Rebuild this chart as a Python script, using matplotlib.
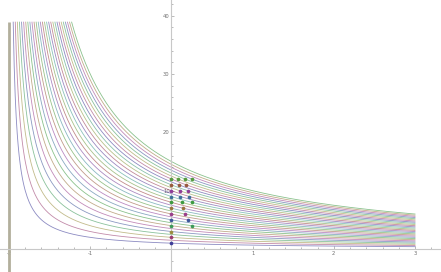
import colorsys
import numpy as np
import matplotlib
matplotlib.use("Agg")
import matplotlib.pyplot as plt
from matplotlib.ticker import MultipleLocator, FixedLocator

# curve constants: y = c / (x + 2)
curve_c = [2, 3, 4, 5, 6, 7, 8, 9, 10, 11, 12, 13, 14, 15, 16,
           17, 18, 19, 20, 21, 22, 23, 24, 25, 26, 27, 28, 29, 30]
x_start = -2.0
x_end = 3.0
y_clip = 38.9

# dots: row height n, and number of extra points k/n on that row
dot_n = [1, 2, 3, 4, 5, 6, 7, 8, 9, 10, 11, 12]
dot_kmax = [0, 0, 0, 1, 1, 1, 1, 2, 2, 2, 2, 3]

x_ticks = [-2, -1, 1, 2, 3]
y_ticks = [10, 20, 30, 40]


def mma_color(i):
    # old Mathematica default colour sequence
    h = (0.67 + i * 0.2381966) % 1.0
    return colorsys.hsv_to_rgb(h, 0.6, 0.6)


fig = plt.figure(figsize=(4.41, 2.72), dpi=100)
ax = fig.add_axes([0, 0, 1, 1])
ax.set_xlim(-2.111, 3.32)
ax.set_ylim(-3.94, 42.69)

# asymptote segment where all curves jump
ax.plot([x_start, x_start], [-3.94, y_clip], color='#b2af9c', lw=2.0,
        solid_capstyle='butt', zorder=2)

for i, c in enumerate(curve_c):
    xs = np.linspace(x_start + c / y_clip, x_end, 400)
    ax.plot(xs, c / (xs - x_start), color=mma_color(i), lw=0.6, alpha=0.6,
            zorder=2)

for i, (n, kmax) in enumerate(zip(dot_n, dot_kmax)):
    xs = [k / n for k in range(kmax + 1)]
    ax.scatter(xs, [n] * len(xs), s=7, color=mma_color(i), zorder=3,
               linewidths=0)

# axes through the origin, Mathematica style
for side in ['top', 'right']:
    ax.spines[side].set_visible(False)
ax.spines['left'].set_position(('data', 0))
ax.spines['bottom'].set_position(('data', 0))
for side in ['left', 'bottom']:
    ax.spines[side].set_color('#c8c8c8')
    ax.spines[side].set_linewidth(0.8)

ax.xaxis.set_major_locator(FixedLocator(x_ticks))
ax.xaxis.set_minor_locator(MultipleLocator(0.2))
ax.yaxis.set_major_locator(FixedLocator(y_ticks))
ax.yaxis.set_minor_locator(MultipleLocator(2))
ax.tick_params(which='both', direction='in', color='#a0a0a0', width=0.5,
               labelsize=3.8, labelcolor='#707070', pad=1.2)
ax.tick_params(which='major', length=2.5)
ax.tick_params(which='minor', length=1.3)
ax.set_xticklabels([str(t) for t in x_ticks])
ax.set_yticklabels([str(t) for t in y_ticks])

fig.savefig('out.png', dpi=100)
